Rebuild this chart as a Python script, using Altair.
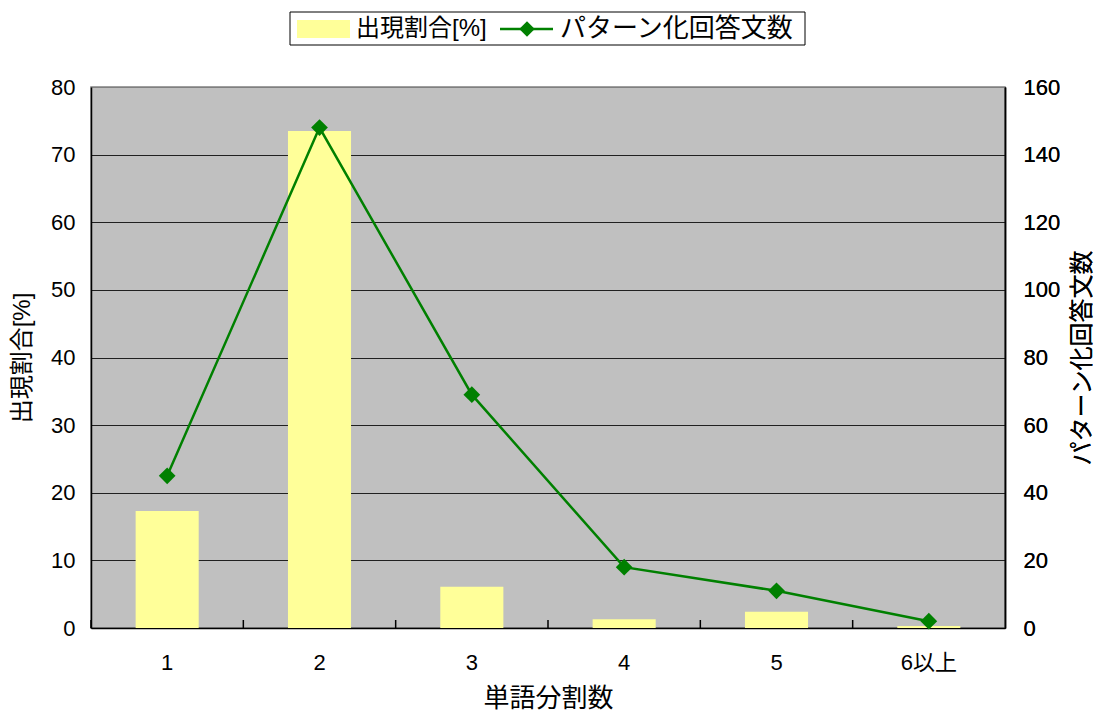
import altair as alt
import pandas as pd

categories = ["1", "2", "3", "4", "5", "6以上"]
share_pct = [17.3, 73.5, 6.1, 1.3, 2.4, 0.3]
pattern_counts = [45, 148, 69, 18, 11, 2]
legend_labels = ["出現割合[%]", "パターン化回答文数"]

FONT = "Liberation Sans, Noto Sans CJK JP"
BAR_COLOR = "#FFFF99"
LINE_COLOR = "#008000"

df = pd.DataFrame({"cat": categories, "share": share_pct, "count": pattern_counts})

x_axis = alt.Axis(title="単語分割数", labelAngle=0, ticks=False, domainColor="black",
                  domainWidth=1.5, labelPadding=24, titlePadding=12, titleFontSize=26)
x_enc = alt.X("cat:N", sort=categories, axis=x_axis,
              scale=alt.Scale(paddingInner=0, paddingOuter=0))

bars = alt.Chart(df).mark_bar(color=BAR_COLOR, width=alt.RelativeBandSize(0.414)).encode(
    x=x_enc,
    y=alt.Y("share:Q", scale=alt.Scale(domain=[0, 80], nice=False),
            axis=alt.Axis(title="出現割合[%]", values=list(range(0, 81, 10)), grid=True,
                          gridColor={"condition": {"test": "datum.value == 80", "value": "#808080"},
                                     "value": "#202020"},
                          gridWidth=1, ticks=False, domainColor="black", domainWidth=1.5,
                          labelPadding=16, titlePadding=16)),
)

line_y = alt.Y("count:Q", scale=alt.Scale(domain=[0, 160], nice=False),
               axis=alt.Axis(orient="right", title="パターン化回答文数", titleAngle=270,
                             titleBaseline="top",
                             values=list(range(0, 161, 20)), grid=False, ticks=False,
                             domainColor="black", domainWidth=1.5, labelPadding=18,
                             titlePadding=11))

line = alt.Chart(df).mark_line(color=LINE_COLOR, strokeWidth=2.5).encode(x=x_enc, y=line_y)
points = alt.Chart(df).mark_point(shape="diamond", filled=True, size=280, color=LINE_COLOR,
                                  opacity=1).encode(x=x_enc, y=line_y)

xticks = alt.Chart(df).mark_rule(color="black", strokeWidth=1.5).encode(
    x=alt.X("cat:N", sort=categories, bandPosition=0, axis=x_axis,
            scale=alt.Scale(paddingInner=0, paddingOuter=0)),
    y=alt.value(541), y2=alt.value(533),
)

# Manual legend (Excel-style box above the plot)
leg_df = pd.DataFrame({"label": legend_labels})
leg_box = alt.Chart(leg_df.head(1)).mark_rect(fill="white", stroke="black", strokeWidth=1).encode(
    x=alt.value(199), x2=alt.value(714), y=alt.value(-75), y2=alt.value(-42))
leg_swatch = alt.Chart(leg_df.head(1)).mark_rect(fill=BAR_COLOR).encode(
    x=alt.value(206), x2=alt.value(259), y=alt.value(-67), y2=alt.value(-49))
leg_text1 = alt.Chart(leg_df.iloc[[0]]).mark_text(
    align="left", baseline="middle", font=FONT, fontSize=24, color="black").encode(
    x=alt.value(265), y=alt.value(-58), text="label:N")
leg_line = alt.Chart(leg_df.head(1)).mark_rule(color=LINE_COLOR, strokeWidth=2.5).encode(
    x=alt.value(409), x2=alt.value(462), y=alt.value(-58))
leg_pt = alt.Chart(leg_df.head(1)).mark_point(shape="diamond", filled=True, size=240,
                                               color=LINE_COLOR, opacity=1).encode(
    x=alt.value(436), y=alt.value(-58))
leg_text2 = alt.Chart(leg_df.iloc[[1]]).mark_text(
    align="left", baseline="middle", font=FONT, fontSize=26, color="black").encode(
    x=alt.value(469), y=alt.value(-58), text="label:N")

chart = alt.layer(
    bars, xticks, line, points,
    leg_box, leg_swatch, leg_text1, leg_line, leg_pt, leg_text2,
).resolve_scale(y="independent").properties(
    width=914, height=541,
    autosize=alt.AutoSizeParams(type="none"),
    padding={"left": 91, "top": 87, "right": 96, "bottom": 84},
).configure_axis(
    labelFont=FONT, titleFont=FONT, labelFontSize=22, titleFontSize=24,
    labelColor="black", titleColor="black", titleFontWeight="normal",
).configure_view(fill="#C0C0C0", stroke="#808080", strokeWidth=1.5)

chart.save("out.html", embed_options={"renderer": "svg", "actions": False})
